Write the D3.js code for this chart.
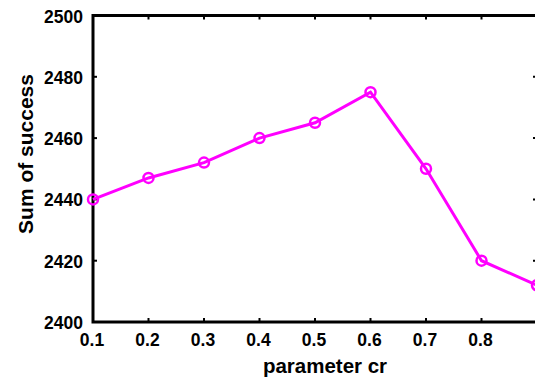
<!DOCTYPE html>
<html>
<head>
<meta charset="utf-8">
<script src="https://cdn.jsdelivr.net/npm/d3@7"></script>
<style>
  body { margin: 0; background: #fff; }
  text { font-family: "Liberation Sans", Arial, Helvetica, sans-serif; font-weight: bold; }
</style>
</head>
<body>
<svg id="chart" width="535" height="383"></svg>
<script>
// values
let crValues = [0.1, 0.2, 0.3, 0.4, 0.5, 0.6, 0.7, 0.8, 0.9];
let successSums = [2440, 2447, 2452, 2460, 2465, 2475, 2450, 2420, 2412];
let xTicks = [0.1, 0.2, 0.3, 0.4, 0.5, 0.6, 0.7, 0.8];
let yTicks = [2400, 2420, 2440, 2460, 2480, 2500];

let svg = d3.select('#chart');
let plotL = 93, plotR = 537, plotT = 15.5, plotB = 322;

let x = d3.scaleLinear().domain([0.1, 0.9]).range([plotL, plotR]);
let y = d3.scaleLinear().domain([2400, 2500]).range([plotB, plotT]);

// inward ticks on all four sides
let tickLen = 4;
let g = svg.append('g');
g.selectAll('.xt').data(crValues).enter().append('line')
	.attr('x1', d => x(d)).attr('x2', d => x(d))
	.attr('y1', plotB).attr('y2', plotB - tickLen)
	.attr('stroke', '#000').attr('stroke-width', 2);
g.selectAll('.xtt').data(crValues).enter().append('line')
	.attr('x1', d => x(d)).attr('x2', d => x(d))
	.attr('y1', plotT).attr('y2', plotT + tickLen)
	.attr('stroke', '#000').attr('stroke-width', 2);
g.selectAll('.yt').data(yTicks).enter().append('line')
	.attr('x1', plotL).attr('x2', plotL + tickLen)
	.attr('y1', d => y(d)).attr('y2', d => y(d))
	.attr('stroke', '#000').attr('stroke-width', 2);
g.selectAll('.ytr').data(yTicks).enter().append('line')
	.attr('x1', plotR).attr('x2', plotR - tickLen)
	.attr('y1', d => y(d)).attr('y2', d => y(d))
	.attr('stroke', '#000').attr('stroke-width', 2);

// frame
svg.append('rect')
	.attr('x', plotL).attr('y', plotT)
	.attr('width', plotR - plotL).attr('height', plotB - plotT)
	.attr('fill', 'none').attr('stroke', '#000').attr('stroke-width', 3);

// tick labels
svg.selectAll('.xl').data(xTicks).enter().append('text')
	.attr('x', d => x(d) - 1).attr('y', 346)
	.attr('text-anchor', 'middle').attr('font-size', 17.5)
	.text(d => d.toFixed(1));
svg.selectAll('.yl').data(yTicks).enter().append('text')
	.attr('x', 83).attr('y', d => y(d) + 7)
	.attr('text-anchor', 'end').attr('font-size', 17.5)
	.text(d => d);

// axis titles
svg.append('text')
	.attr('x', 325).attr('y', 373)
	.attr('text-anchor', 'middle').attr('font-size', 20.5)
	.text('parameter cr');
svg.append('text')
	.attr('transform', 'translate(33,154) rotate(-90)')
	.attr('text-anchor', 'middle').attr('font-size', 21)
	.text('Sum of success');

// data line + open circle markers
let pts = crValues.map((c, i) => [c, successSums[i]]);
svg.append('path')
	.datum(pts)
	.attr('d', d3.line().x(d => x(d[0])).y(d => y(d[1])))
	.attr('fill', 'none').attr('stroke', '#ff00ff').attr('stroke-width', 3);
svg.selectAll('.pt').data(pts).enter().append('circle')
	.attr('cx', d => x(d[0])).attr('cy', d => y(d[1]))
	.attr('r', 5)
	.attr('fill', 'none').attr('stroke', '#ff00ff').attr('stroke-width', 2.5);
</script>
</body>
</html>
